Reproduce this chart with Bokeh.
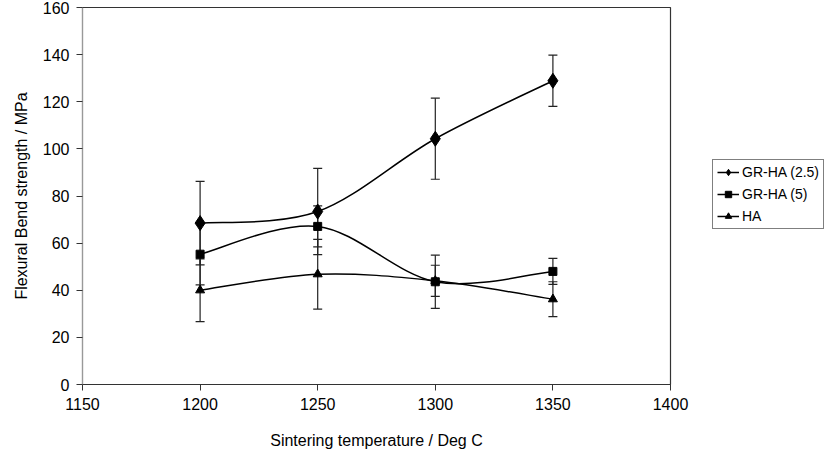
import numpy as np
from bokeh.plotting import figure
from bokeh.models import (ColumnDataSource, Whisker, TeeHead, Legend, LegendItem,
                          Range1d, SingleIntervalTicker)
from bokeh.embed import file_html
from bokeh.resources import INLINE

# ---- data ----
temps = [1200, 1250, 1300, 1350]
gr25 = [68.5, 73.4, 104.3, 128.9]
gr25_err = [17.7, 18.3, 17.2, 10.9]
gr5 = [55.3, 67.1, 43.6, 48.0]
gr5_err = [13.0, 8.7, 11.3, 5.5]
ha = [40.0, 46.8, 44.0, 36.2]
ha_err = [13.3, 14.8, 6.6, 7.4]
series_labels = ["GR-HA (2.5)", "GR-HA (5)", "HA"]

FONT = "Liberation Sans"


def smooth_segments(x, y):
    """Catmull-Rom style bezier control points (like Excel's smoothed line)."""
    x = np.asarray(x, float)
    y = np.asarray(y, float)
    n = len(x)
    xp = np.concatenate([[x[0]], x, [x[-1]]])
    yp = np.concatenate([[y[0]], y, [y[-1]]])
    d = dict(x0=[], y0=[], x1=[], y1=[], cx0=[], cy0=[], cx1=[], cy1=[])
    for i in range(n - 1):
        d["x0"].append(x[i]); d["y0"].append(y[i])
        d["x1"].append(x[i + 1]); d["y1"].append(y[i + 1])
        d["cx0"].append(x[i] + (xp[i + 2] - xp[i]) / 6.0)
        d["cy0"].append(y[i] + (yp[i + 2] - yp[i]) / 6.0)
        d["cx1"].append(x[i + 1] - (xp[i + 3] - xp[i + 1]) / 6.0)
        d["cy1"].append(y[i + 1] - (yp[i + 3] - yp[i + 1]) / 6.0)
    return ColumnDataSource(d)


p = figure(frame_width=588, frame_height=377, output_backend="svg",
           toolbar_location=None,
           x_range=Range1d(1150, 1400), y_range=Range1d(0, 160),
           min_border_left=82, min_border_right=0, min_border_top=7,
           min_border_bottom=69)
p.background_fill_color = "white"
p.border_fill_color = "white"
p.outline_line_color = "#333333"
p.outline_line_width = 1.2
p.xgrid.visible = False
p.ygrid.visible = False

p.xaxis.ticker = SingleIntervalTicker(interval=50)
p.yaxis.ticker = SingleIntervalTicker(interval=20)
for ax in (p.xaxis[0], p.yaxis[0]):
    ax.minor_tick_line_color = None
    ax.major_tick_in = 0
    ax.major_tick_out = 6
    ax.major_tick_line_color = "#333333"
    ax.major_label_text_font = FONT
    ax.major_label_text_font_size = "16px"
    ax.major_label_text_color = "black"
    ax.axis_label_text_font = FONT
    ax.axis_label_text_font_size = "16px"
    ax.axis_label_text_font_style = "normal"
    ax.axis_label_text_color = "black"
p.yaxis.axis_line_color = "#999999"
p.xaxis.axis_line_color = "#333333"
p.xaxis.axis_label = "Sintering temperature / Deg C"
p.yaxis.axis_label = "Flexural Bend strength / MPa"
p.yaxis.major_label_standoff = 7
p.xaxis.major_label_standoff = 7
p.yaxis.axis_label_standoff = 10
p.xaxis.axis_label_standoff = 19

series = [(gr25, gr25_err, "diamond", 15),
          (gr5, gr5_err, "square", 8),
          (ha, ha_err, "triangle", 9)]

items = []
for (vals, errs, marker, size), lab in zip(series, series_labels):
    vals = np.asarray(vals, float)
    errs = np.asarray(errs, float)
    src = ColumnDataSource(dict(x=temps, y=vals, upper=vals + errs, lower=vals - errs))
    w = Whisker(base="x", upper="upper", lower="lower", source=src,
                line_color="#222222", line_width=1.2,
                upper_head=TeeHead(size=9, line_color="#222222", line_width=1.2),
                lower_head=TeeHead(size=9, line_color="#222222", line_width=1.2))
    p.add_layout(w)
    br = p.bezier(x0="x0", y0="y0", x1="x1", y1="y1", cx0="cx0", cy0="cy0",
                  cx1="cx1", cy1="cy1", source=smooth_segments(temps, vals),
                  line_color="black", line_width=1.5)
    sr = p.scatter(x="x", y="y", source=src, marker=marker, size=size,
                   fill_color="black", line_color="black")
    items.append(LegendItem(label=lab, renderers=[br, sr]))

legend = Legend(items=items, location=(42, 155))
legend.label_text_font = FONT
legend.label_text_font_size = "14px"
legend.label_text_color = "black"
legend.border_line_color = "black"
legend.border_line_width = 1
legend.background_fill_color = "white"
legend.background_fill_alpha = 1
legend.glyph_width = 22
legend.glyph_height = 16
legend.label_height = 16
legend.label_standoff = 3
legend.spacing = 6
legend.padding = 4
legend.margin = 20
p.add_layout(legend, "right")

open("out.html", "w").write(file_html(p, INLINE))
